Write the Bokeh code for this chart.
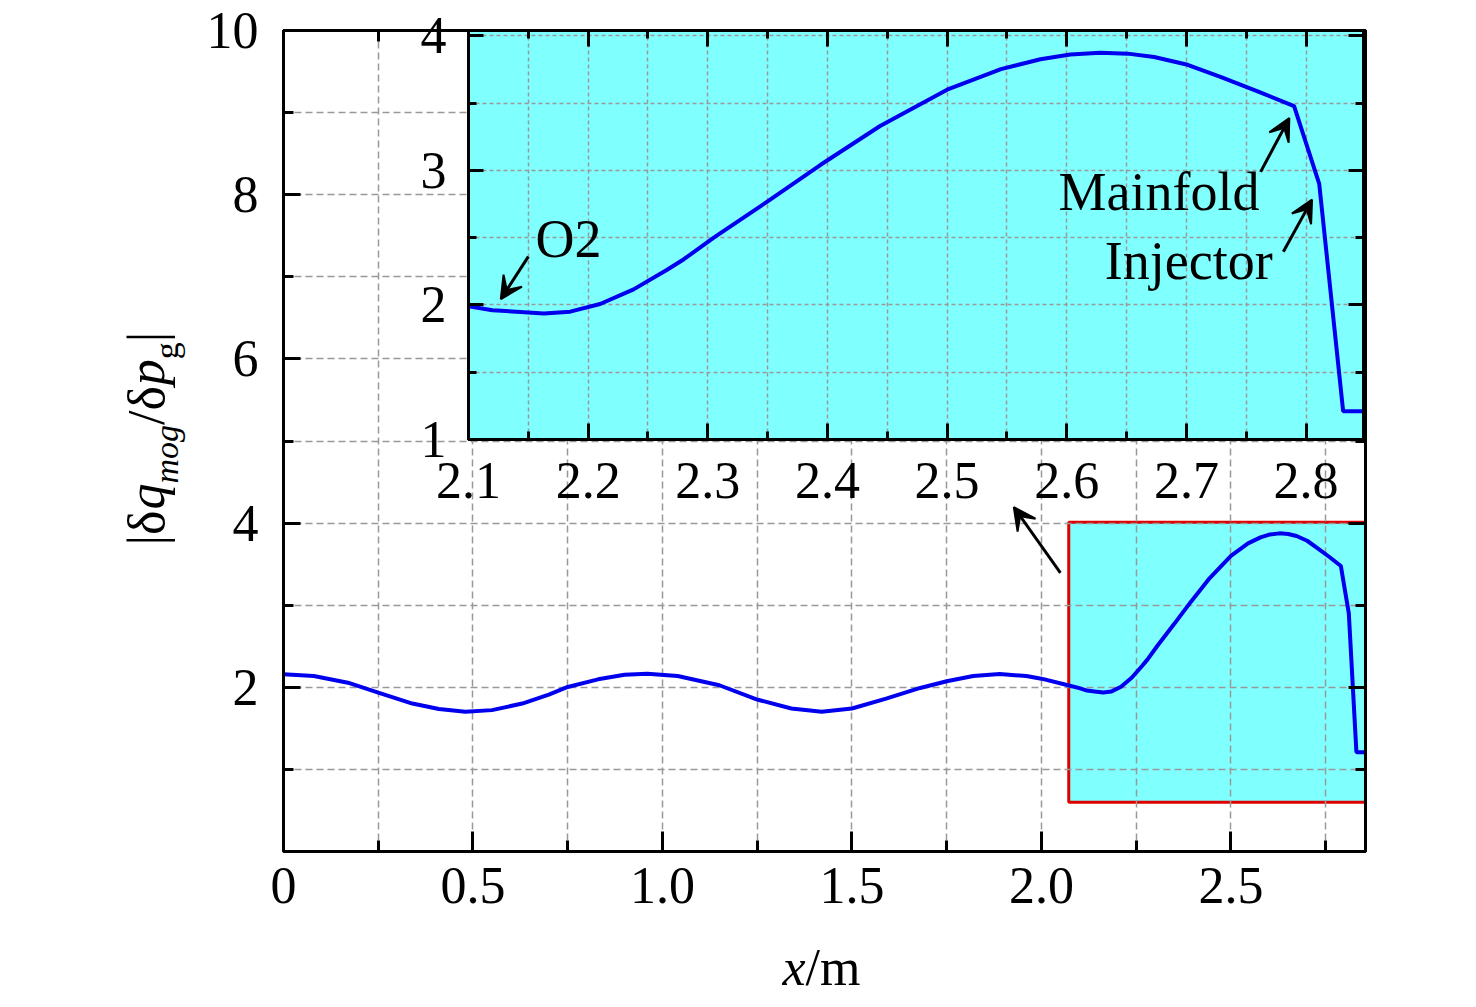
from bokeh.plotting import figure
from bokeh.models import (Range1d, LinearAxis, FixedTicker, Grid, Label, Arrow, VeeHead)
from bokeh.embed import file_html
from bokeh.resources import INLINE

# ---------------- data ----------------
x_m = [0.00, 0.08, 0.17, 0.25, 0.34, 0.41, 0.48, 0.55, 0.63, 0.70,
       0.75, 0.83, 0.90, 0.96, 1.04, 1.15, 1.25, 1.34, 1.42, 1.50,
       1.59, 1.68, 1.75, 1.82, 1.89, 1.96, 2.00, 2.07, 2.10, 2.12,
       2.14, 2.163, 2.185, 2.21, 2.238, 2.266, 2.28, 2.305, 2.35, 2.394,
       2.444, 2.50, 2.545, 2.578, 2.603, 2.628, 2.651, 2.673, 2.701, 2.729,
       2.759, 2.790, 2.811, 2.831, 2.855]
ratio = [2.160, 2.137, 2.056, 1.935, 1.802, 1.735, 1.702, 1.722, 1.802, 1.911,
         2.004, 2.097, 2.153, 2.165, 2.137, 2.025, 1.851, 1.742, 1.702, 1.742,
         1.863, 1.992, 2.073, 2.137, 2.162, 2.137, 2.105, 2.025, 1.990, 1.960,
         1.950, 1.936, 1.950, 2.007, 2.116, 2.262, 2.34, 2.50, 2.77, 3.04,
         3.33, 3.60, 3.753, 3.826, 3.862, 3.875, 3.868, 3.843, 3.785, 3.693,
         3.59, 3.478, 2.90, 1.21, 1.21]

main_xticks = [0.0, 0.5, 1.0, 1.5, 2.0, 2.5]
main_xtick_labels = ["0", "0.5", "1.0", "1.5", "2.0", "2.5"]
main_xminor = [0.25, 0.75, 1.25, 1.75, 2.25, 2.75]
main_yticks = [2, 4, 6, 8, 10]
main_ytick_labels = ["2", "4", "6", "8", "10"]
main_yminor = [1, 3, 5, 7, 9]

inset_xticks = [2.1, 2.2, 2.3, 2.4, 2.5, 2.6, 2.7, 2.8]
inset_xtick_labels = ["2.1", "2.2", "2.3", "2.4", "2.5", "2.6", "2.7", "2.8"]
inset_xminor = [2.15, 2.25, 2.35, 2.45, 2.55, 2.65, 2.75]
inset_yticks = [1, 2, 3, 4]
inset_ytick_labels = ["1", "2", "3", "4"]
inset_yminor = [1.5, 2.5, 3.5]

zoom_left, zoom_right, zoom_bottom, zoom_top = 2.072, 2.855, 0.60, 4.01

annotations = ["O2", "Mainfold", "Injector"]

# ---------------- style ----------------
FONT = "Liberation Serif"
TICK_FS = "52px"
TEXT_FS = 54
TITLE_FS = 52
SUB_FS = 34
CYAN = "#80FFFF"
BLUE = "#0000EE"
RED = "#DD0000"
GRID = "#999999"
LW = 4


def style_axis(ax, labels, major_in, minor_in, standoff):
    ax.axis_line_width = 3
    ax.axis_line_color = "black"
    ax.major_tick_in = major_in
    ax.major_tick_out = 0
    ax.minor_tick_in = minor_in
    ax.minor_tick_out = 0
    ax.major_tick_line_width = 3
    ax.minor_tick_line_width = 3
    ax.major_label_text_font = FONT
    ax.major_label_text_font_size = TICK_FS
    ax.major_label_text_color = "black"
    ax.major_label_standoff = standoff
    ax.major_label_overrides = labels


def add_axes(fig, xt, xl, yt, yl, xmaj, xmin, ymaj, ymin, xs, ys):
    bottom = LinearAxis(ticker=xt)
    style_axis(bottom, dict(zip(xt.ticks, xl)), xmaj, xmin, xs)
    fig.add_layout(bottom, "below")
    left = LinearAxis(ticker=yt)
    style_axis(left, dict(zip(yt.ticks, yl)), ymaj, ymin, ys)
    fig.add_layout(left, "left")
    top = LinearAxis(ticker=xt)
    style_axis(top, {t: "" for t in xt.ticks}, xmaj, xmin, 0)
    fig.add_layout(top, "above")
    right = LinearAxis(ticker=yt)
    style_axis(right, {t: "" for t in yt.ticks}, ymaj, ymin, 0)
    fig.add_layout(right, "right")


def add_grids(fig, xt, yt, dash, width):
    for dim, tk in ((0, xt), (1, yt)):
        g = Grid(dimension=dim, ticker=tk,
                 grid_line_color=GRID, grid_line_dash=dash, grid_line_width=width,
                 minor_grid_line_color=GRID, minor_grid_line_dash=dash,
                 minor_grid_line_width=width)
        fig.add_layout(g)


# ---------------- main figure (page origin 0,0) ----------------
FW, FH = 1082, 821
BL, BR, BT, BB = 283, 95, 30, 149
p = figure(x_range=Range1d(0, 2.855), y_range=Range1d(0, 10),
           frame_width=FW, frame_height=FH,
           min_border_left=BL, min_border_right=BR, min_border_top=BT, min_border_bottom=BB,
           x_axis_type=None, y_axis_type=None,
           output_backend="svg", toolbar_location=None)
p.outline_line_color = "black"
p.outline_line_width = 3
p.background_fill_color = "white"
p.border_fill_color = "white"

mxt = FixedTicker(ticks=main_xticks, minor_ticks=main_xminor)
myt = FixedTicker(ticks=main_yticks, minor_ticks=main_yminor)
add_grids(p, mxt, myt, "7 4", 1.5)
add_axes(p, mxt, main_xtick_labels, myt, main_ytick_labels, 20, 11, 17, 10, 16, 25)

p.quad(left=[zoom_left], right=[zoom_right], bottom=[zoom_bottom], top=[zoom_top],
       fill_color=CYAN, line_color=RED, line_width=3, level="image")
p.line(x_m, ratio, line_color=BLUE, line_width=LW)

p.add_layout(Arrow(end=VeeHead(size=22, fill_color="black", line_color="black", line_width=2),
                   x_start=2.050, y_start=3.395, x_end=1.927, y_end=4.194,
                   line_color="black", line_width=3))

# ---------------- inset ----------------
IL, IR, IT, IB = 70, 8, 24, 90
INSET_TOP = 30
ins = figure(x_range=Range1d(2.1, 2.848), y_range=Range1d(1.0, 4.04),
             frame_width=895, frame_height=409,
             min_border_left=IL, min_border_right=IR, min_border_top=IT, min_border_bottom=IB,
             x_axis_type=None, y_axis_type=None,
             output_backend="svg", toolbar_location=None)
ins.background_fill_color = CYAN
ins.border_fill_color = None
ins.outline_line_color = "black"
ins.outline_line_width = 3

ixt = FixedTicker(ticks=inset_xticks, minor_ticks=inset_xminor)
iyt = FixedTicker(ticks=inset_yticks, minor_ticks=inset_yminor)
add_grids(ins, ixt, iyt, "4 3", 1.5)
add_axes(ins, ixt, inset_xtick_labels, iyt, inset_ytick_labels, 16, 8, 15, 8, 23, 22)
ins.line(x_m, ratio, line_color=BLUE, line_width=LW)

head = dict(size=22, fill_color="black", line_color="black", line_width=2)
ins.add_layout(Arrow(end=VeeHead(**head), x_start=2.150, y_start=2.359, x_end=2.127, y_end=2.043,
                     line_color="black", line_width=3))
ins.add_layout(Arrow(end=VeeHead(**head), x_start=2.762, y_start=2.989, x_end=2.786, y_end=3.389,
                     line_color="black", line_width=3))
ins.add_layout(Arrow(end=VeeHead(**head), x_start=2.781, y_start=2.395, x_end=2.805, y_end=2.783,
                     line_color="black", line_width=3))

for txt, xx, yy, al in ((annotations[0], 2.156, 2.487, "left"),
                        (annotations[1], 2.677, 2.840, "center"),
                        (annotations[2], 2.702, 2.327, "center")):
    ins.add_layout(Label(x=xx, y=yy, text=txt, text_font=FONT, text_font_size=f"{TEXT_FS}px",
                         text_align=al, text_baseline="middle", text_color="black"))

ins.styles = {"position": "absolute", "left": f"{468 - IL}px", "top": f"{INSET_TOP - IT}px",
              "z-index": "5"}

# ---------------- overlay for the axis titles (page-pixel coordinates) ----------------
OW, OH = 1460, 1000
ov = figure(x_range=Range1d(0, OW), y_range=Range1d(OH, 0), width=OW, height=OH,
            min_border=0, x_axis_type=None, y_axis_type=None,
            output_backend="svg", toolbar_location=None)
ov.background_fill_color = None
ov.border_fill_color = None
ov.outline_line_color = None
ov.styles = {"position": "absolute", "left": "0px", "top": "0px", "z-index": "6",
             "pointer-events": "none"}

# y title |δq_mog/δp_g| (rotated, read bottom to top)
pieces = [("|", TITLE_FS, "normal", 0.200, False),
          ("δ", TITLE_FS, "normal", 0.49, False),
          ("q", TITLE_FS, "italic", 0.50, False),
          ("mog", SUB_FS, "italic", 1.722, True),
          ("/", TITLE_FS, "normal", 0.278, False),
          ("δ", TITLE_FS, "normal", 0.49, False),
          ("p", TITLE_FS, "italic", 0.50, False),
          ("g", SUB_FS, "normal", 0.50, True),
          ("|", TITLE_FS, "normal", 0.200, False)]
pos = 545.0
for txt, fs, style, w, sub in pieces:
    base = 166 if sub else 146
    ov.add_layout(Label(x=base, y=pos, text=txt, angle=1.5707963,
                        text_font=FONT, text_font_size=f"{fs}px", text_font_style=style,
                        text_align="left", text_baseline="middle", text_color="black"))
    pos -= w * fs

# x title x/m
ov.add_layout(Label(x=782, y=967, text="x", text_font=FONT, text_font_size=f"{TITLE_FS}px",
                    text_font_style="italic", text_align="left", text_baseline="middle",
                    text_color="black"))
ov.add_layout(Label(x=782 + 0.444 * TITLE_FS, y=967, text="/m", text_font=FONT,
                    text_font_size=f"{TITLE_FS}px", text_align="left", text_baseline="middle",
                    text_color="black"))

open("out.html", "w").write(file_html([p, ins, ov], INLINE))
